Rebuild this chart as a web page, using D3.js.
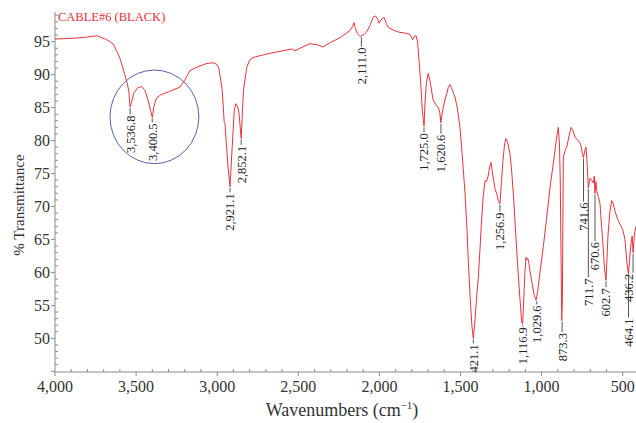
<!DOCTYPE html>
<html><head><meta charset="utf-8">
<script src="https://cdn.jsdelivr.net/npm/d3@7"></script>
<style>
html,body{margin:0;padding:0;background:#fff;}
svg{display:block;}
</style></head>
<body>
<svg id="c" width="636" height="423"></svg>
<script>
// ---- data ----
const wn = [4000,3900,3800,3740,3720,3690,3660,3640,3620,3600,3585,3570,3556,3545,3537,3528,3515,3490,3466,3445,3425,3410,3400,3390,3375,3350,3300,3260,3230,3200,3168,3120,3063,3026,3005,2990,2980,2970,2962,2957,2952,2945,2935,2921,2910,2895,2886,2875,2866,2858,2852,2845,2838,2818,2800,2779,2700,2600,2540,2520,2490,2428,2380,2348,2300,2243,2181,2165,2157,2148,2135,2120,2111,2095,2078,2055,2039,2023,2010,2002,1990,1971,1958,1946,1910,1873,1840,1811,1800,1795,1785,1774,1765,1755,1745,1735,1725,1718,1710,1699,1688,1678,1668,1650,1637,1628,1621,1614,1606,1595,1585,1575,1565,1555,1545,1534,1520,1503,1490,1472,1460,1452,1440,1430,1421,1410,1400,1390,1380,1370,1360,1349,1340,1330,1320,1312,1305,1295,1287,1275,1267,1257,1248,1238,1228,1220,1210,1195,1185,1174,1160,1143,1132,1123,1117,1110,1103,1096,1090,1085,1078,1072,1060,1045,1034,1025,1010,990,970,948,928,907,897,890,885,880,876,872,868,866,855,845,830,818,806,794,775,760,748,742,733,726,718,712,705,700,690,681,675,671,665,660,650,640,630,621,612,603,597,591,580,568,558,547,530,517,500,486,476,468,464,456,448,442,436,428,418];
const tr = [95.4,95.5,95.7,95.9,95.7,95.4,95.0,94.6,93.6,92.5,91.3,90.0,88.8,87.5,85.1,85.8,87.2,88.0,88.2,87.6,86.0,84.5,83.5,85.2,86.4,86.9,87.4,87.8,88.1,89.2,90.6,91.2,91.7,91.8,91.6,91.0,89.5,87.8,85.0,82.8,82.6,80.0,76.5,73.0,78.0,84.5,85.6,85.2,84.3,82.0,80.3,84.0,87.6,91.1,92.2,92.6,93.1,93.6,93.9,93.6,94.0,94.7,94.5,94.2,94.9,95.6,96.7,97.3,97.9,97.0,96.2,95.8,95.9,96.1,96.5,97.6,98.7,98.9,98.4,97.8,98.3,98.7,97.8,97.2,96.7,96.4,96.3,96.1,95.6,95.3,95.8,95.9,95.0,92.0,88.6,84.5,82.2,86.0,88.8,90.2,89.0,87.5,86.1,85.4,85.0,84.3,82.7,84.0,85.0,86.3,87.1,88.1,88.5,88.0,87.3,86.6,85.0,82.0,78.0,72.0,66.5,61.8,56.0,52.0,50.0,53.0,56.5,59.3,63.5,67.9,71.5,73.9,73.8,74.6,76.0,76.7,75.5,73.8,72.7,71.8,70.9,70.4,73.5,77.0,79.5,80.3,79.8,78.0,75.5,71.9,66.0,59.3,55.5,52.5,52.2,56.0,60.0,62.3,61.9,62.1,61.4,60.3,58.5,56.5,55.8,57.0,60.0,63.8,68.0,72.9,76.5,80.5,82.0,79.5,74.0,62.0,52.7,56.0,70.0,77.5,78.5,79.0,80.8,82.0,81.5,80.5,80.0,79.5,78.0,77.4,78.6,79.0,76.0,72.8,74.0,74.3,73.9,73.6,74.6,72.0,73.8,72.4,71.5,70.4,67.0,64.0,60.5,58.8,62.0,65.5,69.0,70.9,70.4,69.2,68.0,67.3,66.5,65.0,62.0,60.3,59.8,62.5,64.5,65.5,63.0,65.8,67.0];

const peakWn     = [3536.8,3400.5,2921.1,2852.1,2111.0,1725.0,1620.6,1421.1,1256.9,1116.9,1029.6,873.3,741.6,711.7,670.6,602.7,464.1,436.2];
const peakLabels = ["3,536.8","3,400.5","2,921.1","2,852.1","2,111.0","1,725.0","1,620.6","421.1","1,256.9","1,116.9","1,029.6","873.3","741.6","711.7","670.6","602.7","464.1","436.2"];
const peakTipT   = [85.1,83.5,73.0,80.3,95.8,82.2,82.7,50.0,70.4,52.2,55.8,52.7,77.4,72.8,72.0,58.8,59.8,63.0];
const labelTopT  = [83.8,82.6,72.0,79.2,94.1,81.1,80.9,49.1,69.1,51.7,55.0,50.8,70.6,59.1,64.6,57.6,53.0,59.8];

const xTicks = [4000,3500,3000,2500,2000,1500,1000,500];
const yTicks = [50,55,60,65,70,75,80,85,90,95];
const xDomain = [4000, 418];
const yDomain = [44.9, 99.5];
// highlighted region (circle) in data units
const ringCenter = [3387, 83.6];
const ringRadius = [274, 7.1];

// ---- drawing ----
const svg = d3.select("#c");
const W = 636;
const M = {l:55, r:636, t:12, b:372};
const x = d3.scaleLinear().domain(xDomain).range([M.l, M.r]);
const y = d3.scaleLinear().domain(yDomain).range([M.b, M.t]);
const serif = "'Liberation Serif','Times New Roman',serif";
const axisCol = "#8a8a8a";

// minor / major ticks
const gx = svg.append("g");
d3.range(4000, 400, -100).forEach(v=>{
  const isMajor = v % 500 === 0;
  gx.append("line").attr("x1",x(v)).attr("x2",x(v))
    .attr("y1",M.b).attr("y2",isMajor ? M.b + 4 : M.b - 3)
    .attr("stroke",axisCol).attr("stroke-width",1);
});
d3.range(45, 100, 1).forEach(v=>{
  const isMajor = v % 5 === 0;
  gx.append("line").attr("y1",y(v)).attr("y2",y(v))
    .attr("x1",M.l).attr("x2",M.l + (isMajor?-4:3))
    .attr("stroke",axisCol).attr("stroke-width",1);
});
// axis lines
svg.append("line").attr("x1",M.l).attr("x2",M.r).attr("y1",M.b).attr("y2",M.b).attr("stroke",axisCol);
svg.append("line").attr("x1",M.l).attr("x2",M.l).attr("y1",M.t).attr("y2",M.b).attr("stroke",axisCol);

// tick labels
svg.append("g").selectAll("text").data(xTicks).join("text")
  .attr("x",d=>x(d)).attr("y",392).attr("text-anchor","middle")
  .attr("font-family",serif).attr("font-size",16).attr("fill","#333")
  .text(d=>d3.format(",")(d));
svg.append("g").selectAll("text").data(yTicks).join("text")
  .attr("x",50).attr("y",d=>y(d)).attr("dy","0.35em").attr("text-anchor","end")
  .attr("font-family",serif).attr("font-size",16).attr("fill","#333")
  .text(d=>d);

// axis titles
const xt = svg.append("text").attr("x",342).attr("y",416).attr("text-anchor","middle")
  .attr("font-family",serif).attr("font-size",18).attr("fill","#333");
xt.append("tspan").text("Wavenumbers (cm");
xt.append("tspan").attr("font-size",11).attr("dy",-7).text("\u22121");
xt.append("tspan").attr("dy",7).text(")");
svg.append("text").attr("transform","translate(24,205) rotate(-90)")
  .attr("text-anchor","middle").attr("font-family",serif).attr("font-size",15).attr("fill","#333")
  .text("% Transmittance");

// chart title
svg.append("text").attr("x",58).attr("y",21).attr("font-family",serif).attr("font-size",12.5)
  .attr("fill","#e0303a").text("CABLE#6 (BLACK)");

// spectrum
const pts = wn.map((w,i)=>[w,tr[i]]);
svg.append("path").datum(pts)
  .attr("d", d3.line().x(d=>x(d[0])).y(d=>y(d[1])))
  .attr("fill","none").attr("stroke","#e8323c").attr("stroke-width",1);

// ring
svg.append("ellipse")
  .attr("cx",x(ringCenter[0])).attr("cy",y(ringCenter[1]))
  .attr("rx",Math.abs(x(ringCenter[0]+ringRadius[0])-x(ringCenter[0])))
  .attr("ry",Math.abs(y(ringCenter[1]+ringRadius[1])-y(ringCenter[1])))
  .attr("fill","none").attr("stroke","#5a5fa8").attr("stroke-width",1);

// peak labels
const pk = svg.append("g");
peakWn.forEach((w,i)=>{
  const px = x(w);
  const tx = Math.min(px, W - 7);
  pk.append("line").attr("x1",px).attr("x2",px)
    .attr("y1",y(peakTipT[i])+1).attr("y2",y(labelTopT[i])-1)
    .attr("stroke","#555").attr("stroke-width",1);
  pk.append("text").attr("transform",`translate(${tx},${y(labelTopT[i])}) rotate(-90)`)
    .attr("text-anchor","end").attr("dy","0.35em")
    .attr("font-family",serif).attr("font-size",12.5).attr("fill","#222")
    .text(peakLabels[i]);
});
</script>
</body></html>
